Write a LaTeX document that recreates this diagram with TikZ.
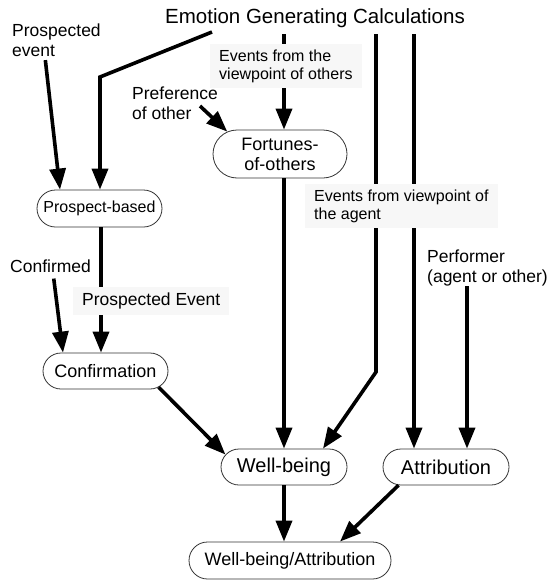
\documentclass[tikz,border=0pt]{standalone}
\usepackage{fontspec}
\setmainfont{Liberation Sans}
\usetikzlibrary{arrows.meta,shapes.misc}

\begin{document}
\begin{tikzpicture}[x=1pt,y=-1pt,
  pill/.style={draw=black!80, line width=0.8pt, rounded rectangle, inner sep=0pt, minimum height=36pt},
  lbl/.style={align=left, inner sep=0pt, font=\fontsize{17.5}{20}\selectfont},
  tag/.style={align=left, fill=black!3, inner xsep=9pt, inner ysep=6pt, font=\fontsize{16}{18}\selectfont},
  arr/.style={line width=3.6pt, -{Triangle[length=21pt,width=16pt]}}]

\useasboundingbox (0,0) rectangle (554,581);

% main boxes
\node[pill, minimum width=125pt, minimum height=37pt, font=\fontsize{16}{18}\selectfont] (pb) at (99.5,208.5) {Prospect-based};
\node[pill, minimum width=125pt, font=\fontsize{18}{20}\selectfont] (conf) at (105.5,371) {Confirmation};
\node[pill, minimum width=134pt, minimum height=48pt, align=center, font=\fontsize{18}{20}\selectfont] (fort) at (280,154) {Fortunes-\\of-others};
\node[pill, minimum width=126pt, font=\fontsize{20}{22}\selectfont] (wb) at (284,467) {Well-being};
\node[pill, minimum width=126pt, font=\fontsize{20}{22}\selectfont] (attr) at (446,467) {Attribution};
\node[pill, minimum width=202pt, minimum height=37pt, font=\fontsize{18}{20}\selectfont] (wba) at (290,560.5) {Well-being/Attribution};

% plain labels
\node (title) at (315,18) {\fontsize{20.5}{24}\selectfont Emotion Generating Calculations};
\node[lbl, anchor=west] (lprosp) at (12,40.5) {Prospected\\event};
\node[lbl, anchor=west] (lpref) at (132,103) {Preference\\of other};
\node[lbl, anchor=west] (lconf) at (10,266) {Confirmed};
\node[lbl, anchor=west] (lperf) at (427,268) {Performer\\(agent or other)};

% line ends
\coordinate (s1) at (212,32);
\coordinate (k1) at (100,77);
\coordinate (s2) at (284,34);
\coordinate (s3) at (376,34);
\coordinate (k3) at (376,372);
\coordinate (s4) at (414,34);
\coordinate (q1) at (200,106);

% connectors
\draw[arr] (s1) -- (k1) -- (k1 |- pb.north);
\draw[arr, shorten <=3pt] (lprosp.south -| 45,0) -- (pb.north -| 60,0);
\draw[arr] (pb.south -| 101,0) -- (conf.north -| 101,0);
\draw[arr, shorten <=6pt] (lconf.south -| 53,0) -- (conf.north -| 63,0);
\draw[arr] (q1) -- (fort.157);
\draw[arr] (s2) -- (fort.north -| s2);
\draw[arr] (fort.south -| wb.north) -- (wb.north);
\draw[arr] (s3) -- (k3) -- (wb.north -| 323,0);
\draw[arr] (s4) -- (attr.north -| s4);
\draw[arr] (lperf.south -| 467,0) -- (attr.north -| 467,0);
\draw[arr] (conf.-17) -- (wb.168);
\draw[arr] (wb.south) -- (wb.south |- wba.north);
\draw[arr] (attr.201) -- (wba.north -| 340,0);

% labels sitting on the lines
\node[tag, anchor=west] (lothers) at (210,66) {Events from the\\viewpoint of others};
\node[tag, anchor=west] (lagent) at (305,206) {Events from viewpoint of\\the agent};
\node[tag, anchor=west, font=\fontsize{17.5}{20}\selectfont] (lpev) at (73,301) {Prospected Event};

\end{tikzpicture}
\end{document}
